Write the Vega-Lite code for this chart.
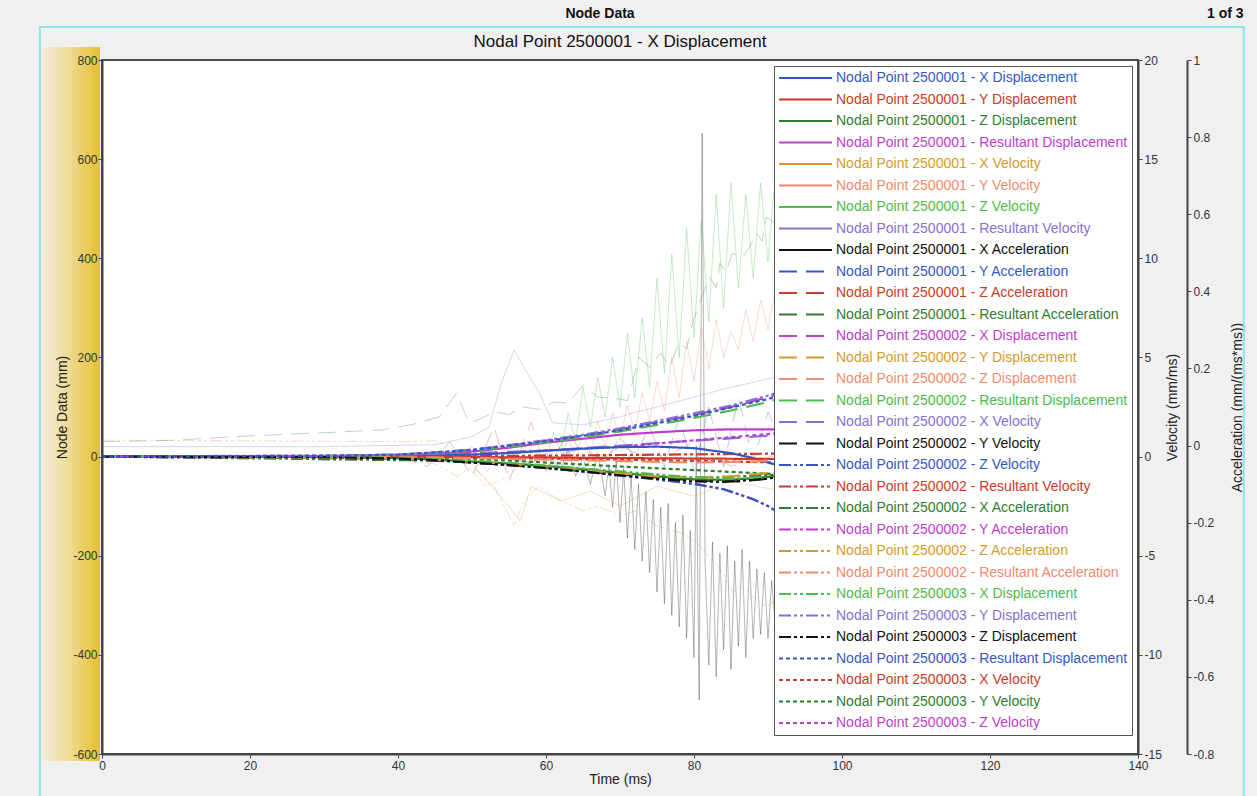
{
  "$schema": "https://vega.github.io/schema/vega-lite/v6.json",
  "width": 1036,
  "height": 694,
  "autosize": {"type": "none"},
  "padding": {"left": 102, "top": 60, "right": 119, "bottom": 42},
  "background": "#f0f0f0",
  "config": {
    "font": "Liberation Sans",
    "view": {"fill": "white", "stroke": "#4a4a4a", "strokeWidth": 2},
    "axis": {"labelFontSize": 12, "labelColor": "#333", "titleFontSize": 14, "titleFontWeight": "normal", "titleColor": "#222", "domainColor": "#444", "domainWidth": 2, "tickColor": "#444", "tickSize": 4}
  },
  "datasets": {
    "series": [
      {"id": "1XD", "name": "Nodal Point 2500001 - X Displacement", "qty": "Displacement"},
      {"id": "1YD", "name": "Nodal Point 2500001 - Y Displacement", "qty": "Displacement"},
      {"id": "1ZD", "name": "Nodal Point 2500001 - Z Displacement", "qty": "Displacement"},
      {"id": "1RD", "name": "Nodal Point 2500001 - Resultant Displacement", "qty": "Displacement"},
      {"id": "1XV", "name": "Nodal Point 2500001 - X Velocity", "qty": "Velocity"},
      {"id": "1YV", "name": "Nodal Point 2500001 - Y Velocity", "qty": "Velocity"},
      {"id": "1ZV", "name": "Nodal Point 2500001 - Z Velocity", "qty": "Velocity"},
      {"id": "1RV", "name": "Nodal Point 2500001 - Resultant Velocity", "qty": "Velocity"},
      {"id": "1XA", "name": "Nodal Point 2500001 - X Acceleration", "qty": "Acceleration"},
      {"id": "1YA", "name": "Nodal Point 2500001 - Y Acceleration", "qty": "Acceleration"},
      {"id": "1ZA", "name": "Nodal Point 2500001 - Z Acceleration", "qty": "Acceleration"},
      {"id": "1RA", "name": "Nodal Point 2500001 - Resultant Acceleration", "qty": "Acceleration"},
      {"id": "2XD", "name": "Nodal Point 2500002 - X Displacement", "qty": "Displacement"},
      {"id": "2YD", "name": "Nodal Point 2500002 - Y Displacement", "qty": "Displacement"},
      {"id": "2ZD", "name": "Nodal Point 2500002 - Z Displacement", "qty": "Displacement"},
      {"id": "2RD", "name": "Nodal Point 2500002 - Resultant Displacement", "qty": "Displacement"},
      {"id": "2XV", "name": "Nodal Point 2500002 - X Velocity", "qty": "Velocity"},
      {"id": "2YV", "name": "Nodal Point 2500002 - Y Velocity", "qty": "Velocity"},
      {"id": "2ZV", "name": "Nodal Point 2500002 - Z Velocity", "qty": "Velocity"},
      {"id": "2RV", "name": "Nodal Point 2500002 - Resultant Velocity", "qty": "Velocity"},
      {"id": "2XA", "name": "Nodal Point 2500002 - X Acceleration", "qty": "Acceleration"},
      {"id": "2YA", "name": "Nodal Point 2500002 - Y Acceleration", "qty": "Acceleration"},
      {"id": "2ZA", "name": "Nodal Point 2500002 - Z Acceleration", "qty": "Acceleration"},
      {"id": "2RA", "name": "Nodal Point 2500002 - Resultant Acceleration", "qty": "Acceleration"},
      {"id": "3XD", "name": "Nodal Point 2500003 - X Displacement", "qty": "Displacement"},
      {"id": "3YD", "name": "Nodal Point 2500003 - Y Displacement", "qty": "Displacement"},
      {"id": "3ZD", "name": "Nodal Point 2500003 - Z Displacement", "qty": "Displacement"},
      {"id": "3RD", "name": "Nodal Point 2500003 - Resultant Displacement", "qty": "Displacement"},
      {"id": "3XV", "name": "Nodal Point 2500003 - X Velocity", "qty": "Velocity"},
      {"id": "3YV", "name": "Nodal Point 2500003 - Y Velocity", "qty": "Velocity"},
      {"id": "3ZV", "name": "Nodal Point 2500003 - Z Velocity", "qty": "Velocity"}
    ],
    "pts": [
      {"id":"1XD","t":0,"v":0},{"id":"1XD","t":30,"v":0},{"id":"1XD","t":40,"v":1},{"id":"1XD","t":45,"v":2},{"id":"1XD","t":50,"v":4},{"id":"1XD","t":55,"v":7},{"id":"1XD","t":60,"v":12},{"id":"1XD","t":65,"v":16},{"id":"1XD","t":70,"v":19},{"id":"1XD","t":75,"v":20},{"id":"1XD","t":80,"v":17},{"id":"1XD","t":85,"v":7},{"id":"1XD","t":88,"v":-3},{"id":"1XD","t":90,"v":-12},{"id":"1XD","t":92,"v":-20},
      {"id":"1YD","t":0,"v":0},{"id":"1YD","t":40,"v":0},{"id":"1YD","t":50,"v":-1},{"id":"1YD","t":60,"v":-2},{"id":"1YD","t":70,"v":-3},{"id":"1YD","t":80,"v":-4},{"id":"1YD","t":92,"v":-5},
      {"id":"1ZD","t":0,"v":0},{"id":"1ZD","t":30,"v":-1},{"id":"1ZD","t":40,"v":-3},{"id":"1ZD","t":45,"v":-6},{"id":"1ZD","t":50,"v":-10},{"id":"1ZD","t":55,"v":-14},{"id":"1ZD","t":60,"v":-19},{"id":"1ZD","t":65,"v":-26},{"id":"1ZD","t":70,"v":-33},{"id":"1ZD","t":75,"v":-40},{"id":"1ZD","t":80,"v":-46},{"id":"1ZD","t":84,"v":-47},{"id":"1ZD","t":88,"v":-44},{"id":"1ZD","t":92,"v":-38},
      {"id":"1RD","t":0,"v":0},{"id":"1RD","t":30,"v":1},{"id":"1RD","t":40,"v":3},{"id":"1RD","t":45,"v":6},{"id":"1RD","t":50,"v":10},{"id":"1RD","t":55,"v":18},{"id":"1RD","t":60,"v":28},{"id":"1RD","t":65,"v":36},{"id":"1RD","t":70,"v":44},{"id":"1RD","t":75,"v":49},{"id":"1RD","t":80,"v":53},{"id":"1RD","t":85,"v":55},{"id":"1RD","t":92,"v":55},
      {"id":"1XV","t":0,"v":0},{"id":"1XV","t":45,"v":0},{"id":"1XV","t":50,"v":-0.375},{"id":"1XV","t":55,"v":-2.5},{"id":"1XV","t":56.5,"v":-3.25},{"id":"1XV","t":58,"v":-1.5},{"id":"1XV","t":62,"v":-2.25},{"id":"1XV","t":66,"v":-1.75},{"id":"1XV","t":70,"v":-2.5},{"id":"1XV","t":75,"v":-1.5},{"id":"1XV","t":80,"v":-2},{"id":"1XV","t":85,"v":-1.25},{"id":"1XV","t":92,"v":-1.75},
      {"id":"1YV","t":0,"v":0},{"id":"1YV","t":40,"v":0},{"id":"1YV","t":47,"v":-0.25},{"id":"1YV","t":50,"v":0.5},{"id":"1YV","t":52,"v":-0.75},{"id":"1YV","t":55,"v":0.25},{"id":"1YV","t":58,"v":-0.4},{"id":"1YV","t":60,"v":0.3},{"id":"1YV","t":62,"v":-0.3},{"id":"1YV","t":63,"v":1},{"id":"1YV","t":64,"v":-0.2},{"id":"1YV","t":65,"v":1.2},{"id":"1YV","t":66,"v":0.2},{"id":"1YV","t":67,"v":1.8},{"id":"1YV","t":68,"v":0.5},{"id":"1YV","t":69,"v":2.2},{"id":"1YV","t":70,"v":0.8},{"id":"1YV","t":71,"v":2.6},{"id":"1YV","t":72,"v":1.2},{"id":"1YV","t":73,"v":3.2},{"id":"1YV","t":74,"v":1.8},{"id":"1YV","t":75,"v":3.8},{"id":"1YV","t":76,"v":2.3},{"id":"1YV","t":77,"v":5},{"id":"1YV","t":78,"v":3},{"id":"1YV","t":79,"v":5.8},{"id":"1YV","t":80,"v":3.8},{"id":"1YV","t":81,"v":6.5},{"id":"1YV","t":82,"v":4.4},{"id":"1YV","t":83,"v":6.9},{"id":"1YV","t":84,"v":5},{"id":"1YV","t":85,"v":6.3},{"id":"1YV","t":86,"v":5.4},{"id":"1YV","t":87,"v":7.4},{"id":"1YV","t":88,"v":5.8},{"id":"1YV","t":89,"v":7.9},{"id":"1YV","t":90,"v":6.4},{"id":"1YV","t":91,"v":8.5},{"id":"1YV","t":92,"v":7.2},
      {"id":"1ZV","t":0,"v":0},{"id":"1ZV","t":55,"v":0},{"id":"1ZV","t":58,"v":0.4},{"id":"1ZV","t":60,"v":-0.2},{"id":"1ZV","t":61,"v":1.2},{"id":"1ZV","t":62,"v":0.2},{"id":"1ZV","t":63,"v":2.2},{"id":"1ZV","t":64,"v":0.8},{"id":"1ZV","t":65,"v":3.5},{"id":"1ZV","t":66,"v":1.5},{"id":"1ZV","t":67,"v":4},{"id":"1ZV","t":68,"v":2},{"id":"1ZV","t":69,"v":5},{"id":"1ZV","t":70,"v":2.5},{"id":"1ZV","t":71,"v":6.2},{"id":"1ZV","t":72,"v":3},{"id":"1ZV","t":73,"v":7},{"id":"1ZV","t":74,"v":3.5},{"id":"1ZV","t":75,"v":9},{"id":"1ZV","t":76,"v":4.2},{"id":"1ZV","t":77,"v":10.2},{"id":"1ZV","t":78,"v":5},{"id":"1ZV","t":79,"v":11.5},{"id":"1ZV","t":80,"v":6},{"id":"1ZV","t":81,"v":12},{"id":"1ZV","t":82,"v":6.8},{"id":"1ZV","t":83,"v":13.2},{"id":"1ZV","t":84,"v":7.5},{"id":"1ZV","t":85,"v":13.8},{"id":"1ZV","t":86,"v":8.5},{"id":"1ZV","t":87,"v":13.2},{"id":"1ZV","t":88,"v":9},{"id":"1ZV","t":89,"v":13.8},{"id":"1ZV","t":90,"v":9.8},{"id":"1ZV","t":91,"v":14.2},{"id":"1ZV","t":92,"v":11},
      {"id":"1RV","t":0,"v":0.5},{"id":"1RV","t":30,"v":0.5},{"id":"1RV","t":45,"v":0.6},{"id":"1RV","t":50,"v":1},{"id":"1RV","t":52.3,"v":1.5},{"id":"1RV","t":54,"v":3.75},{"id":"1RV","t":55.7,"v":5.375},{"id":"1RV","t":57,"v":4.5},{"id":"1RV","t":59.1,"v":3.2},{"id":"1RV","t":60.9,"v":1.7},{"id":"1RV","t":65,"v":1.6},{"id":"1RV","t":70,"v":2},{"id":"1RV","t":71.7,"v":2.2},{"id":"1RV","t":75,"v":2.5},{"id":"1RV","t":80,"v":3},{"id":"1RV","t":85,"v":3.5},{"id":"1RV","t":87.5,"v":3.7},{"id":"1RV","t":92,"v":4.1},
      {"id":"1XA","t":0,"v":-0.029},{"id":"1XA","t":50,"v":-0.029},{"id":"1XA","t":55,"v":-0.035},{"id":"1XA","t":58,"v":-0.045},{"id":"1XA","t":60,"v":-0.02},{"id":"1XA","t":62,"v":-0.06},{"id":"1XA","t":63,"v":-0.01},{"id":"1XA","t":64,"v":-0.08},{"id":"1XA","t":65,"v":-0.03},{"id":"1XA","t":66,"v":-0.1},{"id":"1XA","t":67,"v":-0.02},{"id":"1XA","t":68,"v":-0.13},{"id":"1XA","t":68.5,"v":-0.05},{"id":"1XA","t":69,"v":-0.16},{"id":"1XA","t":69.5,"v":-0.04},{"id":"1XA","t":70,"v":-0.2},{"id":"1XA","t":70.5,"v":-0.06},{"id":"1XA","t":71,"v":-0.24},{"id":"1XA","t":71.5,"v":-0.08},{"id":"1XA","t":72,"v":-0.27},{"id":"1XA","t":72.5,"v":-0.1},{"id":"1XA","t":73,"v":-0.3},{"id":"1XA","t":73.5,"v":-0.12},{"id":"1XA","t":74,"v":-0.33},{"id":"1XA","t":74.5,"v":-0.14},{"id":"1XA","t":75,"v":-0.38},{"id":"1XA","t":75.5,"v":-0.16},{"id":"1XA","t":76,"v":-0.41},{"id":"1XA","t":76.5,"v":-0.15},{"id":"1XA","t":77,"v":-0.44},{"id":"1XA","t":77.5,"v":-0.2},{"id":"1XA","t":78,"v":-0.47},{"id":"1XA","t":78.5,"v":-0.18},{"id":"1XA","t":79,"v":-0.5},{"id":"1XA","t":79.5,"v":-0.22},{"id":"1XA","t":80,"v":-0.55},{"id":"1XA","t":80.3,"v":0},{"id":"1XA","t":80.7,"v":-0.66},{"id":"1XA","t":81.1,"v":0.81},{"id":"1XA","t":81.5,"v":-0.3},{"id":"1XA","t":82,"v":-0.57},{"id":"1XA","t":82.5,"v":-0.25},{"id":"1XA","t":83,"v":-0.6},{"id":"1XA","t":83.5,"v":-0.28},{"id":"1XA","t":84,"v":-0.53},{"id":"1XA","t":84.5,"v":-0.26},{"id":"1XA","t":85,"v":-0.58},{"id":"1XA","t":85.5,"v":-0.3},{"id":"1XA","t":86,"v":-0.52},{"id":"1XA","t":86.5,"v":-0.27},{"id":"1XA","t":87,"v":-0.55},{"id":"1XA","t":87.5,"v":-0.3},{"id":"1XA","t":88,"v":-0.5},{"id":"1XA","t":88.5,"v":-0.32},{"id":"1XA","t":89,"v":-0.49},{"id":"1XA","t":89.5,"v":-0.33},{"id":"1XA","t":90,"v":-0.5},{"id":"1XA","t":90.5,"v":-0.35},{"id":"1XA","t":91,"v":-0.47},{"id":"1XA","t":91.5,"v":-0.36},{"id":"1XA","t":92,"v":-0.45},
      {"id":"1YA","t":0,"v":-0.0285},{"id":"1YA","t":60,"v":-0.0285},{"id":"1YA","t":65,"v":-0.0093},{"id":"1YA","t":68,"v":-0.0414},{"id":"1YA","t":70,"v":0.0229},{"id":"1YA","t":72,"v":-0.0285},{"id":"1YA","t":74,"v":0.0486},{"id":"1YA","t":76,"v":-0.0543},{"id":"1YA","t":78,"v":0.0743},{"id":"1YA","t":80,"v":-0.0671},{"id":"1YA","t":82,"v":0.1},{"id":"1YA","t":84,"v":-0.0543},{"id":"1YA","t":86,"v":0.1257},{"id":"1YA","t":88,"v":-0.0414},{"id":"1YA","t":90,"v":0.0872},{"id":"1YA","t":92,"v":-0.0028},
      {"id":"1ZA","t":0,"v":-0.0285},{"id":"1ZA","t":40,"v":-0.0285},{"id":"1ZA","t":44,"v":-0.0543},{"id":"1ZA","t":47,"v":0.01},{"id":"1ZA","t":50,"v":-0.08},{"id":"1ZA","t":53,"v":0.0486},{"id":"1ZA","t":55,"v":-0.0928},{"id":"1ZA","t":58,"v":0.0614},{"id":"1ZA","t":60,"v":-0.0671},{"id":"1ZA","t":63,"v":0.0358},{"id":"1ZA","t":66,"v":-0.0543},{"id":"1ZA","t":70,"v":-0.0028},{"id":"1ZA","t":75,"v":-0.0414},{"id":"1ZA","t":80,"v":0.01},{"id":"1ZA","t":85,"v":-0.0543},{"id":"1ZA","t":92,"v":-0.0157},
      {"id":"1RA","t":0,"v":0.01},{"id":"1RA","t":10,"v":0.0139},{"id":"1RA","t":17.6,"v":0.0229},{"id":"1RA","t":25,"v":0.0293},{"id":"1RA","t":30,"v":0.0332},{"id":"1RA","t":37.9,"v":0.0409},{"id":"1RA","t":42,"v":0.055},{"id":"1RA","t":45.6,"v":0.0743},{"id":"1RA","t":47.9,"v":0.136},{"id":"1RA","t":49.6,"v":0.0589},{"id":"1RA","t":51,"v":0.0679},{"id":"1RA","t":53,"v":0.0872},{"id":"1RA","t":55,"v":0.0807},{"id":"1RA","t":57,"v":0.1},{"id":"1RA","t":59,"v":0.0936},{"id":"1RA","t":61,"v":0.1129},{"id":"1RA","t":63,"v":0.1103},{"id":"1RA","t":65,"v":0.1566},{"id":"1RA","t":67,"v":0.1257},{"id":"1RA","t":69,"v":0.1232},{"id":"1RA","t":71,"v":0.1167},{"id":"1RA","t":72.6,"v":0.2286},{"id":"1RA","t":74,"v":0.2029},{"id":"1RA","t":75.5,"v":0.24},{"id":"1RA","t":76.7,"v":0.2042},{"id":"1RA","t":78,"v":0.2672},{"id":"1RA","t":79,"v":0.25},{"id":"1RA","t":79.8,"v":0.3173},{"id":"1RA","t":81,"v":0.3829},{"id":"1RA","t":82.1,"v":0.4369},{"id":"1RA","t":83,"v":0.41},{"id":"1RA","t":83.5,"v":0.4729},{"id":"1RA","t":84.3,"v":0.45},{"id":"1RA","t":85.2,"v":0.4986},{"id":"1RA","t":86.5,"v":0.4857},{"id":"1RA","t":87.5,"v":0.5153},{"id":"1RA","t":88.5,"v":0.55},{"id":"1RA","t":89.2,"v":0.53},{"id":"1RA","t":89.8,"v":0.5924},{"id":"1RA","t":91,"v":0.5757},{"id":"1RA","t":92,"v":0.6143},
      {"id":"2XD","t":0,"v":0},{"id":"2XD","t":30,"v":1},{"id":"2XD","t":40,"v":4},{"id":"2XD","t":45,"v":8},{"id":"2XD","t":50,"v":14},{"id":"2XD","t":55,"v":22},{"id":"2XD","t":60,"v":32},{"id":"2XD","t":65,"v":42},{"id":"2XD","t":70,"v":55},{"id":"2XD","t":75,"v":70},{"id":"2XD","t":80,"v":84},{"id":"2XD","t":85,"v":100},{"id":"2XD","t":90,"v":120},{"id":"2XD","t":92,"v":130},
      {"id":"2YD","t":0,"v":0},{"id":"2YD","t":40,"v":-3},{"id":"2YD","t":50,"v":-10},{"id":"2YD","t":60,"v":-20},{"id":"2YD","t":70,"v":-34},{"id":"2YD","t":75,"v":-40},{"id":"2YD","t":80,"v":-42},{"id":"2YD","t":85,"v":-40},{"id":"2YD","t":90,"v":-33},{"id":"2YD","t":92,"v":-28},
      {"id":"2ZD","t":0,"v":0},{"id":"2ZD","t":40,"v":-1},{"id":"2ZD","t":50,"v":-3},{"id":"2ZD","t":60,"v":-6},{"id":"2ZD","t":70,"v":-9},{"id":"2ZD","t":80,"v":-12},{"id":"2ZD","t":88,"v":-10},{"id":"2ZD","t":92,"v":-6},
      {"id":"2RD","t":0,"v":0},{"id":"2RD","t":30,"v":1},{"id":"2RD","t":40,"v":4},{"id":"2RD","t":45,"v":7},{"id":"2RD","t":50,"v":12},{"id":"2RD","t":55,"v":20},{"id":"2RD","t":60,"v":29},{"id":"2RD","t":65,"v":39},{"id":"2RD","t":70,"v":51},{"id":"2RD","t":75,"v":64},{"id":"2RD","t":80,"v":78},{"id":"2RD","t":85,"v":93},{"id":"2RD","t":90,"v":110},{"id":"2RD","t":92,"v":120},
      {"id":"2XV","t":0,"v":0},{"id":"2XV","t":40,"v":0.05},{"id":"2XV","t":60,"v":0.3},{"id":"2XV","t":80,"v":0.8},{"id":"2XV","t":92,"v":1.1},
      {"id":"2YV","t":0,"v":0},{"id":"2YV","t":40,"v":-0.1},{"id":"2YV","t":50,"v":-0.3},{"id":"2YV","t":60,"v":-0.55},{"id":"2YV","t":70,"v":-0.9},{"id":"2YV","t":80,"v":-1.2},{"id":"2YV","t":86,"v":-1.25},{"id":"2YV","t":92,"v":-1.05},
      {"id":"2ZV","t":0,"v":0},{"id":"2ZV","t":30,"v":-0.03},{"id":"2ZV","t":40,"v":-0.1},{"id":"2ZV","t":45,"v":-0.18},{"id":"2ZV","t":50,"v":-0.3},{"id":"2ZV","t":55,"v":-0.43},{"id":"2ZV","t":60,"v":-0.58},{"id":"2ZV","t":65,"v":-0.75},{"id":"2ZV","t":70,"v":-0.95},{"id":"2ZV","t":75,"v":-1.15},{"id":"2ZV","t":80,"v":-1.38},{"id":"2ZV","t":84,"v":-1.65},{"id":"2ZV","t":88,"v":-2.15},{"id":"2ZV","t":90,"v":-2.5},{"id":"2ZV","t":92,"v":-2.95},
      {"id":"2RV","t":0,"v":0},{"id":"2RV","t":50,"v":0.02},{"id":"2RV","t":70,"v":0.08},{"id":"2RV","t":92,"v":0.15},
      {"id":"2XA","t":0,"v":-0.0285},{"id":"2XA","t":50,"v":-0.04},{"id":"2XA","t":70,"v":-0.07},{"id":"2XA","t":80,"v":-0.085},{"id":"2XA","t":92,"v":-0.075},
      {"id":"2YA","t":0,"v":-0.029},{"id":"2YA","t":40,"v":-0.034},{"id":"2YA","t":50,"v":-0.044},{"id":"2YA","t":60,"v":-0.058},{"id":"2YA","t":70,"v":-0.077},{"id":"2YA","t":80,"v":-0.099},{"id":"2YA","t":84,"v":-0.113},{"id":"2YA","t":88,"v":-0.139},{"id":"2YA","t":90,"v":-0.157},{"id":"2YA","t":92,"v":-0.18},
      {"id":"2ZA","t":0,"v":-0.0285},{"id":"2ZA","t":40,"v":-0.035},{"id":"2ZA","t":45,"v":-0.0478},{"id":"2ZA","t":48,"v":-0.08},{"id":"2ZA","t":50,"v":-0.0543},{"id":"2ZA","t":53,"v":-0.1057},{"id":"2ZA","t":55.7,"v":-0.2085},{"id":"2ZA","t":57,"v":-0.1442},{"id":"2ZA","t":59,"v":-0.1057},{"id":"2ZA","t":61,"v":-0.1314},{"id":"2ZA","t":63,"v":-0.1507},{"id":"2ZA","t":65,"v":-0.17},{"id":"2ZA","t":67,"v":-0.1571},{"id":"2ZA","t":70,"v":-0.1828},{"id":"2ZA","t":72,"v":-0.17},{"id":"2ZA","t":75,"v":-0.2085},{"id":"2ZA","t":78.5,"v":-0.2278},{"id":"2ZA","t":80,"v":-0.2471},{"id":"2ZA","t":81.7,"v":-0.2793},{"id":"2ZA","t":83.9,"v":-0.3307},{"id":"2ZA","t":85.2,"v":-0.3821},{"id":"2ZA","t":86.5,"v":-0.3628},{"id":"2ZA","t":88,"v":-0.3924},{"id":"2ZA","t":89.8,"v":-0.4181},{"id":"2ZA","t":91,"v":-0.4014},{"id":"2ZA","t":92,"v":-0.4271},
      {"id":"2RA","t":0,"v":0.0139},{"id":"2RA","t":20,"v":0.0126},{"id":"2RA","t":40,"v":0.01},{"id":"2RA","t":45,"v":0.0126},{"id":"2RA","t":47,"v":-0.0028},{"id":"2RA","t":50,"v":-0.0671},{"id":"2RA","t":52,"v":-0.1057},{"id":"2RA","t":55,"v":-0.08},{"id":"2RA","t":57,"v":-0.0414},{"id":"2RA","t":60,"v":-0.0093},{"id":"2RA","t":63,"v":-0.0543},{"id":"2RA","t":66,"v":-0.0157},{"id":"2RA","t":70,"v":-0.0285},{"id":"2RA","t":80,"v":-0.0221},{"id":"2RA","t":92,"v":-0.0285},
      {"id":"3XD","t":0,"v":0},{"id":"3XD","t":40,"v":-2},{"id":"3XD","t":50,"v":-8},{"id":"3XD","t":60,"v":-18},{"id":"3XD","t":70,"v":-30},{"id":"3XD","t":80,"v":-42},{"id":"3XD","t":85,"v":-45},{"id":"3XD","t":92,"v":-42},
      {"id":"3YD","t":0,"v":0},{"id":"3YD","t":30,"v":1},{"id":"3YD","t":40,"v":4},{"id":"3YD","t":45,"v":8},{"id":"3YD","t":50,"v":14},{"id":"3YD","t":55,"v":23},{"id":"3YD","t":60,"v":33},{"id":"3YD","t":65,"v":44},{"id":"3YD","t":70,"v":57},{"id":"3YD","t":75,"v":72},{"id":"3YD","t":80,"v":87},{"id":"3YD","t":85,"v":103},{"id":"3YD","t":90,"v":123},{"id":"3YD","t":92,"v":133},
      {"id":"3ZD","t":0,"v":0},{"id":"3ZD","t":30,"v":-1},{"id":"3ZD","t":40,"v":-4},{"id":"3ZD","t":45,"v":-7},{"id":"3ZD","t":50,"v":-12},{"id":"3ZD","t":55,"v":-17},{"id":"3ZD","t":60,"v":-23},{"id":"3ZD","t":65,"v":-30},{"id":"3ZD","t":70,"v":-38},{"id":"3ZD","t":75,"v":-45},{"id":"3ZD","t":80,"v":-50},{"id":"3ZD","t":84,"v":-51},{"id":"3ZD","t":88,"v":-47},{"id":"3ZD","t":92,"v":-41},
      {"id":"3RD","t":0,"v":0},{"id":"3RD","t":30,"v":1},{"id":"3RD","t":40,"v":4},{"id":"3RD","t":50,"v":13},{"id":"3RD","t":60,"v":31},{"id":"3RD","t":70,"v":53},{"id":"3RD","t":80,"v":82},{"id":"3RD","t":90,"v":116},{"id":"3RD","t":92,"v":126},
      {"id":"3XV","t":0,"v":0},{"id":"3XV","t":50,"v":-0.05},{"id":"3XV","t":70,"v":-0.15},{"id":"3XV","t":92,"v":-0.3},
      {"id":"3YV","t":0,"v":0},{"id":"3YV","t":50,"v":-0.1},{"id":"3YV","t":70,"v":-0.5},{"id":"3YV","t":92,"v":-0.9},
      {"id":"3ZV","t":0,"v":0},{"id":"3ZV","t":50,"v":0.1},{"id":"3ZV","t":70,"v":0.5},{"id":"3ZV","t":92,"v":1.2}
    ]
  },
  "layer": [
    {
      "data": {"values": [{}]},
      "mark": {"type": "rect", "fill": {"gradient": "linear", "x1": 0, "x2": 1, "y1": 0, "y2": 0, "stops": [{"offset": 0, "color": "#f3eedf"}, {"offset": 0.5, "color": "#eed98c"}, {"offset": 1, "color": "#e6c02e"}]}},
      "encoding": {
        "x": {"datum": -8.1, "type": "quantitative", "title": "Time (ms)", "scale": {"domain": [0, 140], "nice": false}},
        "x2": {"datum": -0.27},
        "y": {"datum": 826, "type": "quantitative", "scale": {"domain": [-600, 800], "nice": false}, "axis": null},
        "y2": {"datum": -614}
      }
    },
    {
      "data": {"values": [{}]},
      "mark": {"type": "rect", "fillOpacity": 0, "stroke": "#8fe3ea", "strokeWidth": 2},
      "encoding": {
        "x": {"datum": -8.39, "type": "quantitative", "title": "Time (ms)", "scale": {"domain": [0, 140], "nice": false}},
        "x2": {"datum": 154.3},
        "y": {"datum": 866.6, "type": "quantitative", "scale": {"domain": [-600, 800], "nice": false}, "axis": null},
        "y2": {"datum": -720}
      }
    },
    {
      "data": {"values": [{"label": "1 of 3", "t": 151.8, "h": 892.8}, {"label": "Node Data", "t": 67.3, "h": 892.8}]},
      "mark": {"type": "text", "fontSize": 14, "fontWeight": "bold", "color": "#111", "align": "center", "baseline": "middle"},
      "encoding": {
        "text": {"field": "label"},
        "x": {"field": "t", "type": "quantitative", "title": "Time (ms)", "scale": {"domain": [0, 140], "nice": false}},
        "y": {"field": "h", "type": "quantitative", "scale": {"domain": [-600, 800], "nice": false}, "axis": null}
      }
    },
    {
      "data": {"values": [{"label": "Nodal Point 2500001 - X Displacement", "t": 70, "h": 836.3}]},
      "mark": {"type": "text", "fontSize": 17, "color": "#111", "align": "center", "baseline": "middle"},
      "encoding": {
        "text": {"field": "label"},
        "x": {"field": "t", "type": "quantitative", "title": "Time (ms)", "scale": {"domain": [0, 140], "nice": false}},
        "y": {"field": "h", "type": "quantitative", "scale": {"domain": [-600, 800], "nice": false}, "axis": null}
      }
    },
    {
      "data": {"name": "pts"},
      "transform": [
        {"lookup": "id", "from": {"data": {"name": "series"}, "key": "id", "fields": ["name", "qty"]}},
        {"filter": "datum.qty == 'Acceleration'"}
      ],
      "mark": {"type": "line", "strokeCap": "butt"},
      "encoding": {
        "x": {"field": "t", "type": "quantitative", "title": "Time (ms)", "scale": {"domain": [0, 140], "nice": false}},
        "y": {"field": "v", "type": "quantitative", "scale": {"domain": [-0.8, 1], "nice": false, "zero": false},
          "axis": {"orient": "right", "offset": 49, "title": "Acceleration (mm/(ms*ms))", "titleAngle": 270, "values": [-0.8, -0.6, -0.4, -0.2, 0, 0.2, 0.4, 0.6, 0.8, 1], "labelExpr": "'' + datum.value", "grid": false, "titlePadding": 31}},
        "color": {"field": "name", "type": "nominal", "title": null, "sort": null, "scale": {"domain": ["Nodal Point 2500001 - X Displacement", "Nodal Point 2500001 - Y Displacement", "Nodal Point 2500001 - Z Displacement", "Nodal Point 2500001 - Resultant Displacement", "Nodal Point 2500001 - X Velocity", "Nodal Point 2500001 - Y Velocity", "Nodal Point 2500001 - Z Velocity", "Nodal Point 2500001 - Resultant Velocity", "Nodal Point 2500001 - X Acceleration", "Nodal Point 2500001 - Y Acceleration", "Nodal Point 2500001 - Z Acceleration", "Nodal Point 2500001 - Resultant Acceleration", "Nodal Point 2500002 - X Displacement", "Nodal Point 2500002 - Y Displacement", "Nodal Point 2500002 - Z Displacement", "Nodal Point 2500002 - Resultant Displacement", "Nodal Point 2500002 - X Velocity", "Nodal Point 2500002 - Y Velocity", "Nodal Point 2500002 - Z Velocity", "Nodal Point 2500002 - Resultant Velocity", "Nodal Point 2500002 - X Acceleration", "Nodal Point 2500002 - Y Acceleration", "Nodal Point 2500002 - Z Acceleration", "Nodal Point 2500002 - Resultant Acceleration", "Nodal Point 2500003 - X Displacement", "Nodal Point 2500003 - Y Displacement", "Nodal Point 2500003 - Z Displacement", "Nodal Point 2500003 - Resultant Displacement", "Nodal Point 2500003 - X Velocity", "Nodal Point 2500003 - Y Velocity", "Nodal Point 2500003 - Z Velocity"],
          "range": ["#3358c4", "#cc3a2a", "#2e7d32", "#c03ccf", "#d49b2a", "#f08a6e", "#4cbb4c", "#8571d3", "#111111", "#3358c4", "#cc3a2a", "#2e7d32", "#c03ccf", "#d49b2a", "#f08a6e", "#4cbb4c", "#8571d3", "#111111", "#3358c4", "#cc3a2a", "#2e7d32", "#c03ccf", "#d49b2a", "#f08a6e", "#4cbb4c", "#8571d3", "#111111", "#3358c4", "#cc3a2a", "#2e7d32", "#c03ccf"]}},
        "strokeDash": {"field": "name", "type": "nominal", "title": null, "sort": null, "scale": {"domain": ["Nodal Point 2500001 - X Displacement", "Nodal Point 2500001 - Y Displacement", "Nodal Point 2500001 - Z Displacement", "Nodal Point 2500001 - Resultant Displacement", "Nodal Point 2500001 - X Velocity", "Nodal Point 2500001 - Y Velocity", "Nodal Point 2500001 - Z Velocity", "Nodal Point 2500001 - Resultant Velocity", "Nodal Point 2500001 - X Acceleration", "Nodal Point 2500001 - Y Acceleration", "Nodal Point 2500001 - Z Acceleration", "Nodal Point 2500001 - Resultant Acceleration", "Nodal Point 2500002 - X Displacement", "Nodal Point 2500002 - Y Displacement", "Nodal Point 2500002 - Z Displacement", "Nodal Point 2500002 - Resultant Displacement", "Nodal Point 2500002 - X Velocity", "Nodal Point 2500002 - Y Velocity", "Nodal Point 2500002 - Z Velocity", "Nodal Point 2500002 - Resultant Velocity", "Nodal Point 2500002 - X Acceleration", "Nodal Point 2500002 - Y Acceleration", "Nodal Point 2500002 - Z Acceleration", "Nodal Point 2500002 - Resultant Acceleration", "Nodal Point 2500003 - X Displacement", "Nodal Point 2500003 - Y Displacement", "Nodal Point 2500003 - Z Displacement", "Nodal Point 2500003 - Resultant Displacement", "Nodal Point 2500003 - X Velocity", "Nodal Point 2500003 - Y Velocity", "Nodal Point 2500003 - Z Velocity"],
          "range": [[1, 0], [1, 0], [1, 0], [1, 0], [1, 0], [1, 0], [1, 0], [1, 0], [1, 0], [18, 9], [18, 9], [18, 9], [18, 9], [18, 9], [18, 9], [18, 9], [18, 9], [18, 9], [12, 3, 3, 3, 3, 3], [12, 3, 3, 3, 3, 3], [12, 3, 3, 3, 3, 3], [12, 3, 3, 3, 3, 3], [12, 3, 3, 3, 3, 3], [12, 3, 3, 3, 3, 3], [12, 3, 3, 3, 3, 3], [12, 3, 3, 3, 3, 3], [12, 3, 3, 3, 3, 3], [4, 3], [4, 3], [4, 3], [4, 3]]}},
        "opacity": {"condition": {"test": "indexof(['1XA','1YA','1ZA','1RA','2ZA','2RA'], datum.id) >= 0", "value": 0.32}, "value": 1},
        "strokeWidth": {"condition": {"test": "indexof(['1XA','1YA','1ZA','1RA','2ZA','2RA'], datum.id) >= 0", "value": 1}, "value": 2.2}
      }
    },
    {
      "data": {"name": "pts"},
      "transform": [
        {"lookup": "id", "from": {"data": {"name": "series"}, "key": "id", "fields": ["name", "qty"]}},
        {"filter": "datum.qty == 'Velocity'"}
      ],
      "mark": {"type": "line", "strokeCap": "butt"},
      "encoding": {
        "x": {"field": "t", "type": "quantitative", "title": "Time (ms)", "scale": {"domain": [0, 140], "nice": false}},
        "y": {"field": "v", "type": "quantitative", "scale": {"domain": [-15, 20], "nice": false, "zero": false},
          "axis": {"orient": "right", "offset": 0, "title": "Velocity (mm/ms)", "titleAngle": 270, "values": [-15, -10, -5, 0, 5, 10, 15, 20], "labelExpr": "'' + datum.value", "grid": false, "titlePadding": 18}},
        "color": {"field": "name", "type": "nominal", "title": null, "sort": null},
        "strokeDash": {"field": "name", "type": "nominal", "title": null, "sort": null},
        "opacity": {"condition": {"test": "indexof(['1XV','1YV','1ZV','1RV'], datum.id) >= 0", "value": 0.32}, "value": 1},
        "strokeWidth": {"condition": {"test": "indexof(['1XV','1YV','1ZV','1RV'], datum.id) >= 0", "value": 1}, "value": 2.2}
      }
    },
    {
      "data": {"name": "pts"},
      "transform": [
        {"lookup": "id", "from": {"data": {"name": "series"}, "key": "id", "fields": ["name", "qty"]}},
        {"filter": "datum.qty == 'Displacement'"}
      ],
      "mark": {"type": "line", "strokeWidth": 2.2, "strokeCap": "butt"},
      "encoding": {
        "x": {"field": "t", "type": "quantitative", "title": "Time (ms)", "scale": {"domain": [0, 140], "nice": false},
          "axis": {"values": [0, 10, 20, 30, 40, 50, 60, 70, 80, 90, 100, 110, 120, 130, 140], "labelExpr": "datum.value % 20 === 0 ? datum.label : ''", "gridColor": {"condition": {"test": "datum.value % 20 !== 0", "value": "#e8e8e8"}, "value": "#d8d8d8"}, "gridDash": {"condition": {"test": "datum.value % 20 !== 0", "value": [1, 2]}, "value": []}, "tickOpacity": {"condition": {"test": "datum.value % 20 !== 0", "value": 0}, "value": 1}, "labelPadding": 2, "titlePadding": 1, "labelFlush": false}},
        "y": {"field": "v", "type": "quantitative", "scale": {"domain": [-600, 800], "nice": false},
          "axis": {"orient": "left", "title": "Node Data (mm)", "values": [-600, -500, -400, -300, -200, -100, 0, 100, 200, 300, 400, 500, 600, 700, 800], "labelExpr": "datum.value % 200 === 0 ? '' + datum.value : ''", "gridColor": {"condition": {"test": "datum.value % 200 !== 0", "value": "#e8e8e8"}, "value": "#d8d8d8"}, "gridDash": {"condition": {"test": "datum.value % 200 !== 0", "value": [1, 2]}, "value": []}, "tickOpacity": {"condition": {"test": "datum.value % 200 !== 0", "value": 0}, "value": 1}, "labelPadding": 1, "titlePadding": 3, "zindex": 1, "labelFlush": false}},
        "color": {"field": "name", "type": "nominal", "title": null, "sort": null,
          "legend": {"orient": "top-right", "offset": 6, "title": null, "symbolType": "stroke", "symbolSize": 2809, "symbolStrokeWidth": 2, "clipHeight": 16, "rowPadding": 5.5, "labelOffset": 3, "labelFontSize": 14, "labelLimit": 400, "padding": 4, "fillColor": "white", "strokeColor": "#555", "symbolLimit": 50, "symbolOpacity": 1,
            "encode": {"labels": {"update": {"fill": {"scale": "color", "field": "value"}}}}}},
        "strokeDash": {"field": "name", "type": "nominal", "title": null, "sort": null}
      }
    }
  ],
  "resolve": {"scale": {"y": "independent"}}
}
